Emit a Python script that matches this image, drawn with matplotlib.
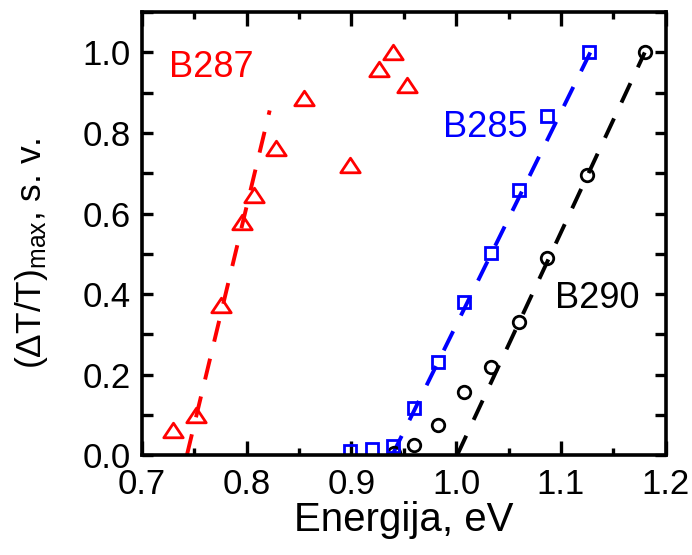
import matplotlib
matplotlib.use("Agg")
import matplotlib.pyplot as plt
from matplotlib.ticker import MultipleLocator
from matplotlib.path import Path
import numpy as np

plt.rcParams['font.family'] = ['Liberation Sans', 'DejaVu Sans']
plt.rcParams['mathtext.fontset'] = 'custom'
plt.rcParams['mathtext.rm'] = 'Liberation Sans'
plt.rcParams['mathtext.it'] = 'Liberation Sans'

# B287 (red triangles)
b287_x = [0.730, 0.752, 0.776, 0.796, 0.807, 0.828, 0.855, 0.899, 0.926, 0.940, 0.953]
b287_y = [0.062, 0.100, 0.372, 0.578, 0.646, 0.762, 0.888, 0.720, 0.960, 1.000, 0.918]
b287_fit_x = [0.743, 0.822]
b287_fit_y = [0.0, 0.856]

# B285 (blue squares)
b285_x = [0.899, 0.920, 0.940, 0.960, 0.983, 1.007, 1.033, 1.060, 1.087, 1.127]
b285_y = [0.010, 0.015, 0.022, 0.117, 0.231, 0.380, 0.501, 0.658, 0.842, 1.000]
b285_fit_x = [0.939, 1.128]
b285_fit_y = [0.0, 1.0]

# B290 (black circles)
b290_x = [0.941, 0.960, 0.983, 1.007, 1.033, 1.060, 1.087, 1.125, 1.180]
b290_y = [0.005, 0.025, 0.074, 0.156, 0.218, 0.330, 0.489, 0.695, 1.000]
b290_fit_x = [1.001, 1.180]
b290_fit_y = [0.0, 1.0]

xlim = (0.7, 1.2)
ylim = (0.0, 1.1)
xticks = [0.7, 0.8, 0.9, 1.0, 1.1, 1.2]
yticks = [0.0, 0.2, 0.4, 0.6, 0.8, 1.0]

tri = Path([(0, 0.75), (-1, -0.75), (1, -0.75), (0, 0.75)],
           [Path.MOVETO, Path.LINETO, Path.LINETO, Path.CLOSEPOLY])

fig = plt.figure(figsize=(6.92, 5.55), dpi=100)
ax = fig.add_axes([0.205, 0.18, 0.757, 0.798])

lw = 2.8
dash = (5.5, 4.5)
ax.plot(b287_fit_x, b287_fit_y, color='#ff0000', lw=lw, dashes=dash)
ax.plot(b285_fit_x, b285_fit_y, color='#0000ff', lw=lw, dashes=dash)
ax.plot(b290_fit_x, b290_fit_y, color='black', lw=lw, dashes=dash)

ax.plot(b290_x, b290_y, ls='none', marker='o', ms=9, mfc='none', mec='black', mew=2.0)
ax.plot(b285_x, b285_y, ls='none', marker='s', ms=8.5, mfc='none', mec='#0000ff', mew=2.0)
ax.plot(b287_x, b287_y, ls='none', marker=tri, ms=14, mfc='none', mec='#ff0000', mew=2.0)

ax.text(0.7257, 0.938, 'B287', color='#ff0000', fontsize=26, ha='left', va='baseline')
ax.text(0.987, 0.789, 'B285', color='#0000ff', fontsize=26, ha='left', va='baseline')
ax.text(1.0945, 0.365, 'B290', color='black', fontsize=26, ha='left', va='baseline')

ax.set_xlim(*xlim)
ax.set_ylim(*ylim)
ax.set_xticks(xticks)
ax.set_yticks(yticks)
ax.set_xticklabels([f'{v:.1f}' for v in xticks])
ax.set_yticklabels([f'{v:.1f}' for v in yticks])
ax.xaxis.set_minor_locator(MultipleLocator(0.05))
ax.yaxis.set_minor_locator(MultipleLocator(0.1))

for s in ax.spines.values():
    s.set_linewidth(2.6)
ax.tick_params(which='both', direction='in', top=True, right=True, width=2.4, labelsize=25)
ax.tick_params(axis='x', which='major', length=10, pad=9)
ax.tick_params(axis='x', which='minor', length=5)
ax.tick_params(axis='y', which='both', length=8, pad=8)

ax.set_xlabel('Energija, eV', fontsize=29, labelpad=0)
ax.set_ylabel(r'$\mathrm{(\Delta T/T)_{max}}$, s. v.', fontsize=25.5)
ax.yaxis.set_label_coords(-0.175, 0.455)

fig.savefig('out.png', dpi=100)
